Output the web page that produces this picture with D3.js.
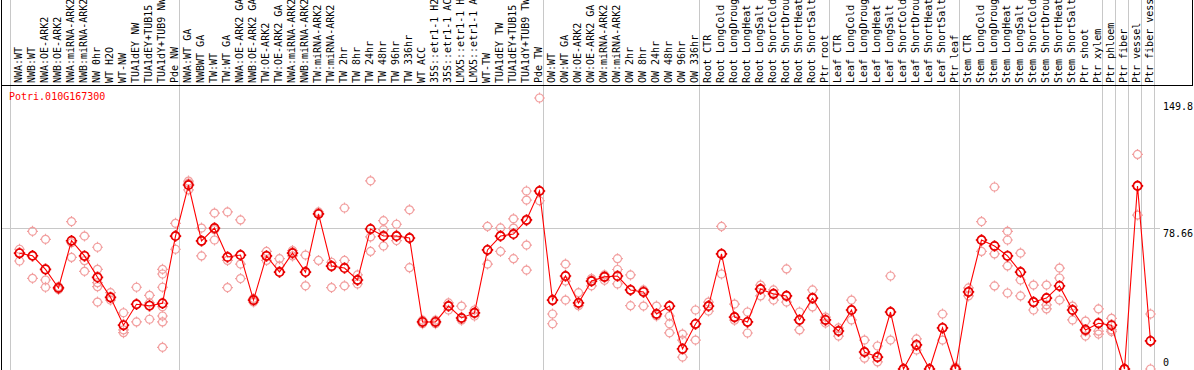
<!DOCTYPE html>
<html><head><meta charset="utf-8">
<script src="https://cdn.jsdelivr.net/npm/d3@7"></script>
<style>
body{margin:0;background:#fff}
svg{display:block}
text{font-family:"DejaVu Sans Mono",monospace;font-size:10px}
</style>
</head><body>
<svg id="chart" width="1194" height="370"></svg>
<script>
const title = "Potri.010G167300";
const categories = [
"NWA:WT","NWB:WT","NWA:OE-ARK2","NWB:OE-ARK2","NWA:miRNA-ARK2","NWB:miRNA-ARK2","NW 0hr","WT H2O","WT-NW","TUA1dEY NW","TUA1dEY+TUB15 NW","TUA1dY+TUB9 NW","Pde NW",
"NWA:WT GA","NWBWT GA","TW:WT","TW:WT GA","NWA:OE-ARK2 GA","NWB:OE-ARK2 GA","TW:OE-ARK2","TW:OE-ARK2 GA","NWA:miRNA-ARK2 GA","NWB:miRNA-ARK2 GA","TW:miRNA-ARK2","TW:miRNA-ARK2 GA","TW 2hr","TW 8hr","TW 24hr","TW 48hr","TW 96hr","TW 336hr","WT ACC","35S::etr1-1 H2O","35S::etr1-1 ACC","LMX5::etr1-1 H2O","LMX5::etr1-1 ACC","WT-TW","TUA1dEY TW","TUA1dEY+TUB15 TW","TUA1dY+TUB9 TW","Pde TW",
"OW:WT","OW:WT GA","OW:OE-ARK2","OW:OE-ARK2 GA","OW:miRNA-ARK2","OW:miRNA-ARK2 GA","OW 2hr","OW 8hr","OW 24hr","OW 48hr","OW 96hr","OW 336hr",
"Root CTR","Root LongCold","Root LongDrought","Root LongHeat","Root LongSalt","Root ShortCold","Root ShortDrought","Root ShortHeat","Root ShortSalt","Ptr root",
"Leaf CTR","Leaf LongCold","Leaf LongDrought","Leaf LongHeat","Leaf LongSalt","Leaf ShortCold","Leaf ShortDrought","Leaf ShortHeat","Leaf ShortSalt","Ptr leaf",
"Stem CTR","Stem LongCold","Stem LongDrought","Stem LongHeat","Stem LongSalt","Stem ShortCold","Stem ShortDrought","Stem ShortHeat","Stem ShortSalt","Ptr shoot","Ptr xylem",
"Ptr phloem","Ptr fiber","Ptr vessel","Ptr fiber vessel"];

const meanValues = [
64.0,62.6,55.1,44.8,70.9,62.5,50.7,39.6,24.2,35.8,35.0,36.3,73.5,
101.7,70.8,77.9,61.9,63.0,38.1,62.5,53.6,64.1,53.6,85.7,56.9,55.8,49.2,77.4,73.5,73.5,72.4,26.0,26.0,34.8,28.2,31.0,65.8,73.5,74.6,82.4,98.4,
38.1,51.4,36.5,48.6,50.9,51.4,43.7,42.6,30.4,34.8,11.1,24.9,
34.8,63.6,28.7,26.0,44.2,41.5,40.4,27.1,39.2,27.1,
21.0,32.6,9.4,6.6,31.5,0,13.3,0,22.7,0,
42.6,71.3,68.0,62.5,53.6,37.0,39.2,45.9,32.6,21.6,25.3,
24.2,0,101.2,15.5];

const replicateValues = [
[66.2,64.0,59.7],[76.1,62.6,50.1],[71.7,49.2,45.2],[44.0,45.0,45.5],[81.5,69.8,61.7],[73.5,59.9,54.0],[67.3,55.1,47.7,45.5,37.0],[42.2,39.6,38.1],[31.1,21.6,20.1],[45.2,35.8,26.0],[40.7,36.5,27.5],[55.1,52.5,45.2,34.4,29.3,26.0,12.0],[80.5,73.5,66.2],
[103.9,102.8,99.0],[77.9,70.8,62.5],[86.2,77.0,71.3],[86.8,60.0,45.0],[82.4,58.0,50.0],[39.0,38.1,37.0],[65.0,62.5,60.0],[61.0,57.0,53.6],[65.5,64.1,62.5],[63.0,53.6,46.0],[86.8,85.7,60.0],[59.0,56.9,45.0],[89.0,60.0,46.0],[52.0,49.2,47.0],[104.0,73.0,65.0],[82.0,77.0,68.0],[80.0,73.5,71.0],[88.0,72.4,56.0],[27.0,26.0,25.0],[27.0,26.0,25.0],[36.5,34.8,32.6],[34.8,28.2,27.0],[32.6,31.0,29.3],[78.8,65.8,58.0],[78.0,73.5,65.0],[83.0,77.9,61.0],[98.4,93.4,82.0,68.5,54.7],[149.8,98.4,93.0],
[38.1,30.4,25.0],[58.0,48.6,38.1],[42.2,36.5,35.0],[50.0,48.6,46.0],[52.0,50.9,49.0],[61.0,55.0,47.0],[52.0,43.7,35.0],[43.7,42.6,34.8],[34.8,30.4,29.3],[29.3,25.0,20.0],[19.3,16.0,6.6],[32.6,24.9,16.0],
[37.0,34.8,32.0],[78.8,63.6,52.5],[35.9,28.7,27.0],[31.5,26.0,19.9],[46.4,44.2,40.4],[43.7,41.5,38.1],[55.3,40.4,37.0],[31.5,27.1,21.6],[43.7,39.2,34.3],[28.7,27.1,25.4],
[22.7,21.0,18.2],[38.1,32.6,27.1],[16.0,9.4,6.0],[12.7,6.6,3.9],[51.4,31.5,16.0],[0,0,0],[16.6,13.3,10.5],[0,0,0],[30.4,22.7,16.0],[1.1,0,0],
[44.8,42.6,40.4],[81.5,71.3,65.0],[100.6,63.6,45.9],[76.1,71.3,57.0,42.0],[64.1,49.2,40.4],[46.4,37.0,32.6],[46.4,35.4,33.2],[55.8,50.3,38.1],[34.8,32.6,27.1],[26.5,20.9,18.2],[33.2,20.9,19.3],
[28.0,21.6,20.7],[0,0,0],[118.6,101.2,85.1],[30.4,15.5,0]];

const groupStarts = ["NWA:WT","NWA:WT GA","OW:WT","Root CTR","Leaf CTR","Stem CTR","Ptr phloem","Ptr fiber","Ptr vessel","Ptr fiber vessel"];
const yTickValues = [149.8, 78.66, 0];
const gridValues = [78.66];

const W = 1194, H = 370;
const svg = d3.select("#chart");

const x = d3.scaleBand().domain(categories).range([11, 11 + 13 * categories.length]).paddingInner(0).paddingOuter(0);
const px = c => x(c) + 8.5;
const y = d3.scaleLinear().domain([0, 149.8]).range([369, 98]);

const sepX = groupStarts.map(c => x(c) - 0.5).concat([x(categories[categories.length-1]) + x.bandwidth() - 0.5]);
svg.append("g").selectAll("line").data(sepX).join("line")
  .attr("x1", d => d).attr("x2", d => d).attr("y1", 0).attr("y2", H)
  .attr("stroke", "#c8c8c8").attr("stroke-width", 1);

svg.append("g").selectAll("line").data(gridValues).join("line")
  .attr("x1", 1).attr("x2", 1160)
  .attr("y1", d => Math.round(y(d)) + 1.5).attr("y2", d => Math.round(y(d)) + 1.5)
  .attr("stroke", "#c8c8c8");

svg.append("line").attr("x1", 1.5).attr("x2", 1.5).attr("y1", 0).attr("y2", H).attr("stroke", "#000");
svg.append("line").attr("x1", 1).attr("x2", 1193).attr("y1", 85.5).attr("y2", 85.5).attr("stroke", "#000");
svg.append("line").attr("x1", 1192.5).attr("x2", 1192.5).attr("y1", 0).attr("y2", 86).attr("stroke", "#000");

svg.append("g").selectAll("text").data(categories).join("text")
  .attr("transform", d => `translate(${px(d) + 2},83) rotate(-90)`)
  .attr("fill", "#000")
  .text(d => d);

svg.append("g").selectAll("text").data(yTickValues).join("text")
  .attr("x", 1163)
  .attr("y", d => Math.min(Math.max(y(d) + 10, 110), 366))
  .attr("fill", "#000")
  .text(d => String(d));

svg.append("text").attr("x", 9).attr("y", 100).attr("fill", "#ff0000").text(title);

function marker(sel, r) {
  sel.append("circle").attr("r", r);
  sel.append("path").attr("d", `M0,${-r-1.5}V${-r+0.5}M0,${r-0.5}V${r+1.5}M${-r-1.5},0H${-r+0.5}M${r-0.5},0H${r+1.5}`);
}

const repData = [];
categories.forEach((c, i) => replicateValues[i].forEach(v => repData.push({c, v})));
const reps = svg.append("g").attr("fill", "none").attr("stroke", "#f2a0a0").attr("stroke-width", 1.2)
  .selectAll("g").data(repData).join("g")
  .attr("transform", d => `translate(${px(d.c)},${y(d.v)})`);
reps.each(function(){ marker(d3.select(this), 4); });

const line = d3.line().x((d, i) => px(categories[i])).y(d => y(d));
svg.append("path").datum(meanValues).attr("d", line).attr("fill", "none").attr("stroke", "#ff0000").attr("stroke-width", 1.1);

const means = svg.append("g").attr("fill", "none").attr("stroke", "#e80000").attr("stroke-width", 1.7)
  .selectAll("g").data(meanValues).join("g")
  .attr("transform", (d, i) => `translate(${px(categories[i])},${y(d)})`);
means.each(function(){ marker(d3.select(this), 4.2); });
</script>
</body></html>
